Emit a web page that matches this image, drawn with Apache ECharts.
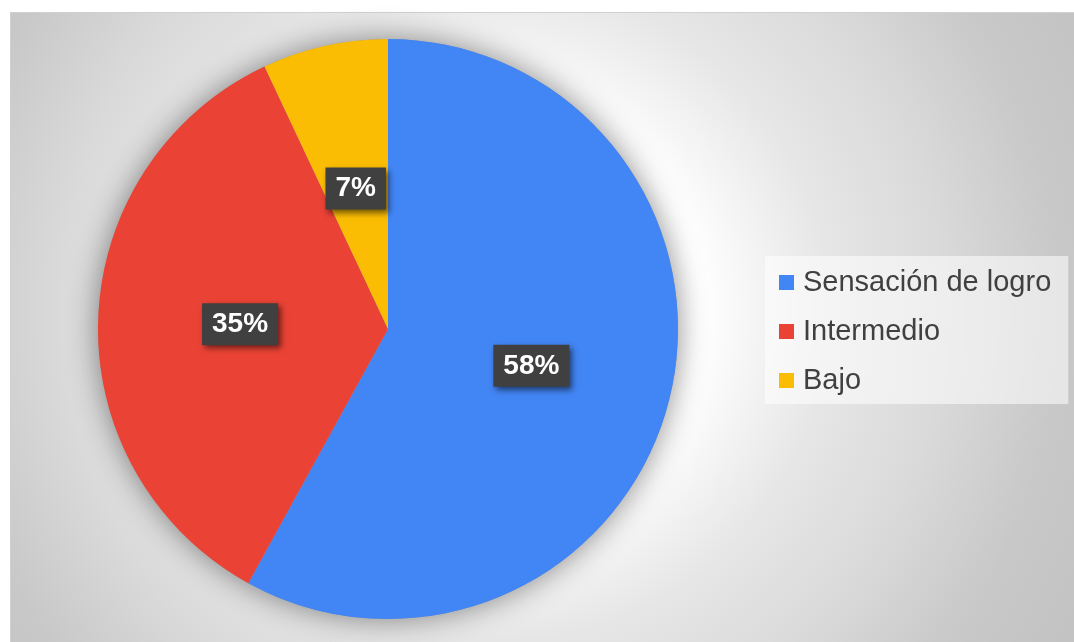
<!DOCTYPE html>
<html>
<head>
<meta charset="utf-8">
<script src="https://cdn.jsdelivr.net/npm/echarts@6/dist/echarts.min.js"></script>
<style>
  html, body { margin: 0; padding: 0; background: #ffffff; }
  #frame {
    position: absolute; left: 10px; top: 12px; width: 1064px; height: 630px;
    border-top: 1px solid #d0d0d0; border-left: 1px solid #d0d0d0;
    box-sizing: border-box;
    background: radial-gradient(circle at 490px 298px,
      #ffffff 0px, #ffffff 200px, #e6e6e6 330px, #dadada 440px,
      #c8c8c8 560px, #c0c0c0 720px);
  }
  #chart { position: absolute; left: 0; top: 0; width: 1074px; height: 642px; }
</style>
</head>
<body>
<div id="frame"></div>
<div id="chart"></div>
<script>
// Niveles de logro y su porcentaje
const categories = ['Sensación de logro', 'Intermedio', 'Bajo'];
const values = [58, 35, 7];
const colors = ['#4285f4', '#ea4335', '#fbbc04'];

const pieData = categories.map((name, i) => ({
  name: name,
  value: values[i],
  itemStyle: { color: colors[i] }
}));

const chart = echarts.init(document.getElementById('chart'), null, { renderer: 'canvas' });

chart.setOption({
  backgroundColor: 'transparent',
  animation: false,
  legend: {
    data: categories,
    orient: 'vertical',
    left: 765,
    top: 256,
    padding: [12, 17, 9, 14],
    itemGap: 20,
    itemWidth: 15,
    itemHeight: 15,
    icon: 'rect',
    backgroundColor: 'rgba(255,255,255,0.55)',
    textStyle: {
      fontFamily: 'Arial, "Liberation Sans", sans-serif',
      fontSize: 29,
      color: '#404040',
      padding: [0, 0, 0, 4]
    }
  },
  series: [
    {
      // soft shadow under the whole pie
      type: 'pie',
      silent: true,
      center: [388, 329],
      radius: 290,
      z: 1,
      label: { show: false },
      labelLine: { show: false },
      itemStyle: {
        color: '#9a9a9a',
        shadowBlur: 30,
        shadowColor: 'rgba(0,0,0,0.45)'
      },
      data: [{ name: '', value: 1 }]
    },
    {
      type: 'pie',
      center: [388, 329],
      radius: 290,
      startAngle: 90,
      clockwise: true,
      z: 2,
      itemStyle: { borderWidth: 0 },
      label: {
        show: true,
        position: 'inside',
        formatter: '{c}%',
        fontFamily: 'Arial, "Liberation Sans", sans-serif',
        fontSize: 28,
        fontWeight: 'bold',
        color: '#ffffff',
        backgroundColor: '#404040',
        padding: [7, 10, 7, 10],
        shadowColor: 'rgba(0,0,0,0.55)',
        shadowBlur: 6,
        shadowOffsetX: 3,
        shadowOffsetY: 3
      },
      labelLayout: function (p) {
        return p.dataIndex === 2 ? { dy: 4 } : {};
      },
      emphasis: { disabled: true },
      data: pieData
    }
  ]
});
</script>
</body>
</html>
